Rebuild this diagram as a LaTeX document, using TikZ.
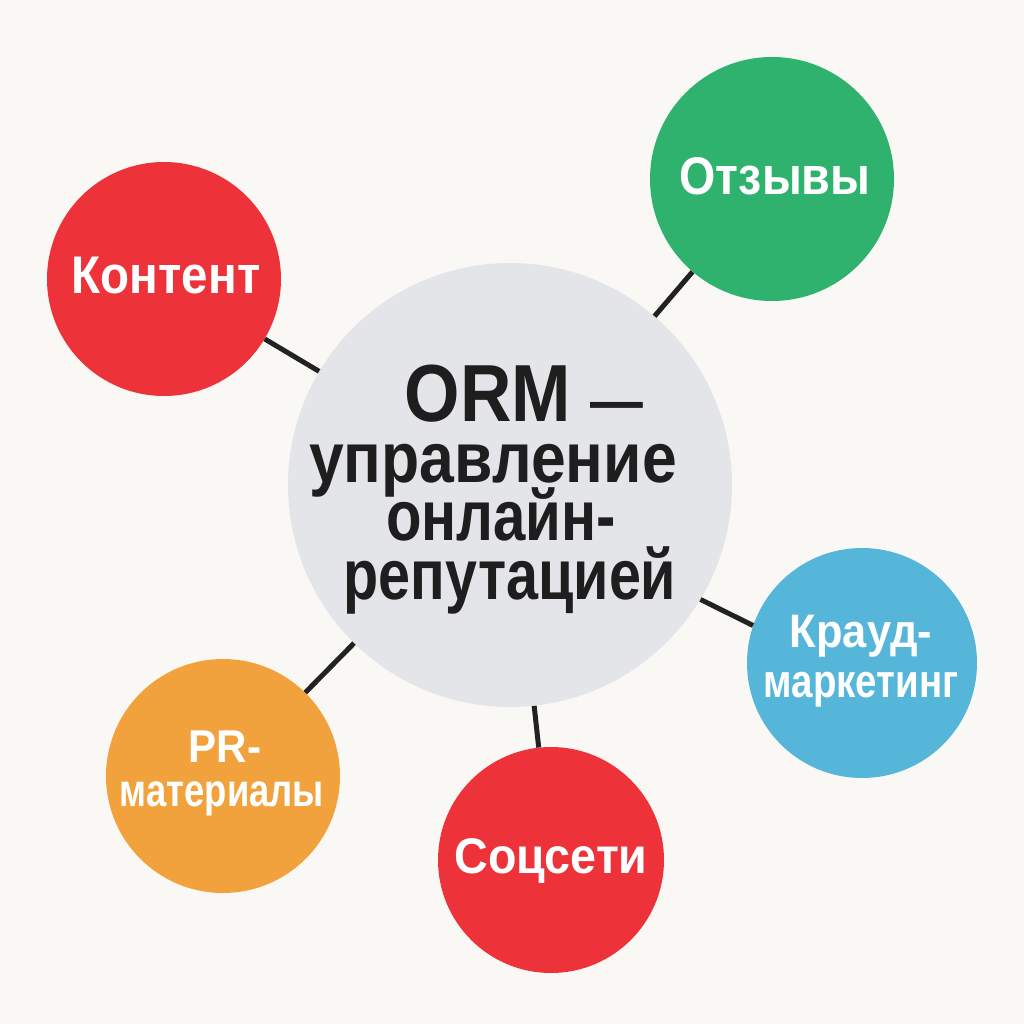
\documentclass[tikz,border=0pt]{standalone}
\usepackage{fontspec}
\newfontfamily\lab[FakeStretch=0.88]{Liberation Sans}
\definecolor{bgcol}{HTML}{FAF8F5}
\definecolor{graycol}{HTML}{E4E5E8}
\definecolor{redcol}{HTML}{EE3239}
\definecolor{greencol}{HTML}{30B26F}
\definecolor{bluecol}{HTML}{55B6DA}
\definecolor{orangecol}{HTML}{F2A23C}
\definecolor{linecol}{HTML}{222222}
\definecolor{textdark}{HTML}{1E1E1E}
\begin{document}
\begin{tikzpicture}[x=1pt,y=-1pt,
  bubble/.style={circle,inner sep=0pt,minimum size=#1},
  link/.style={line width=5pt,draw=linecol},
  wlab/.style={text=white,anchor=base,inner sep=0pt,font=\lab\bfseries\fontsize{#1}{#1}\selectfont},
  dlab/.style={text=textdark,anchor=base,inner sep=0pt,font=\lab\bfseries\fontsize{#1}{#1}\selectfont}
]
\fill[bgcol] (0,0) rectangle (1024,1024);
\node[bubble=444pt,fill=graycol] (c) at (510,485) {};
\node[bubble=234pt,fill=redcol] (kont) at (164,279) {};
\node[bubble=244pt,fill=greencol] (otz) at (772,179) {};
\node[bubble=230pt,fill=bluecol] (kr) at (862,663) {};
\node[bubble=226pt,fill=redcol] (soc) at (551,860) {};
\node[bubble=234pt,fill=orangecol] (pr) at (223,776) {};
\draw[link] (c) -- (kont);
\draw[link] (c) -- (otz);
\draw[link] (c.-31.6) -- (kr.161.3);
\draw[link] (c) -- (soc);
\draw[link] (c) -- (pr);
\node[dlab=81] (l1) at (524,421) {ORM {\fontsize{60}{60}\selectfont —}};
\node[dlab=71] (l2) at (493,482) {управление};
\node[dlab=71] (l3) at (501,540) {\scalebox{0.93}[1]{онлайн-}};
\node[dlab=71] (l4) at (510,599) {\scalebox{0.92}[1]{репутацией}};
\node[wlab=53] (t1) at (166,293) {\scalebox{1.02}[1]{Контент}};
\node[wlab=53] (t2) at (775,195) {Отзывы};
\node[wlab=47] (t3) at (861,647) {\scalebox{1.05}[1]{Крауд-}};
\node[wlab=47] (t4) at (861,697) {\scalebox{0.93}[1]{маркетинг}};
\node[wlab=46] (t5) at (225,762) {\scalebox{1.04}[1]{PR-}};
\node[wlab=46] (t6) at (222,806) {\scalebox{0.9}[1]{материалы}};
\node[wlab=50] (t7) at (551,873) {\scalebox{1.06}[1]{Соцсети}};
\end{tikzpicture}
\end{document}
